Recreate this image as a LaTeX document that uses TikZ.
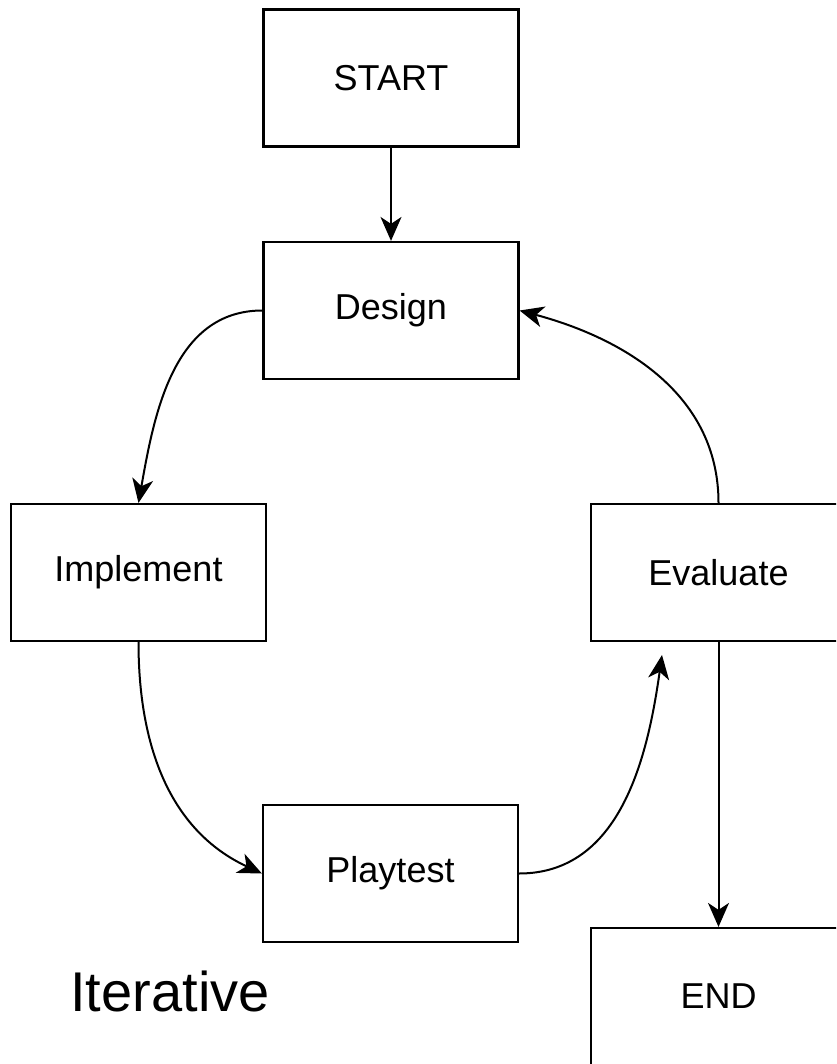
\documentclass[tikz,border=0pt]{standalone}
\usepackage{fontspec}
\setmainfont{Liberation Sans}
\usetikzlibrary{arrows.meta}

\begin{document}
\begin{tikzpicture}[x=1pt, y=-1pt,
		box/.style={draw, line width=2.2pt, minimum width=255pt, minimum height=137pt, inner sep=0pt, font=\fontsize{36}{42}\selectfont},
		arr/.style={line width=2pt, -{Stealth[length=24pt, width=21pt, inset=7pt]}}]
				\useasboundingbox (0,0) rectangle (836,1064);
				\clip (0,0) rectangle (836,1064);
				\node[box] (start) at (391,78) {START};
				\node[box] (design) at (391,310.5) {Design};
				\node[box] (impl) at (138.5,572.5) {Implement};
				\node[box] (eval) at (718.5,572.5) {Evaluate};
				\node[box] (play) at (390.5,873.5) {Playtest};
				\node[box] (end) at (718.5,996.5) {END};
				\coordinate (tip) at (662,655);
				\node[font=\fontsize{56}{64}\selectfont] (iter) at (170,991) {Iterative};
				\draw[arr] (start) -- (design);
				\draw[arr] (design.west) to[out=180, in=80] (impl.north);
				\draw[arr] (impl.south) to[out=-90, in=155] (play.west);
				\draw[arr] (play.east) to[out=0, in=-98] (tip);
				\draw[arr] (eval.north) to[out=90, in=-15] (design.east);
				\draw[arr] (eval.south) -- (end.north);
\end{tikzpicture}
\end{document}
